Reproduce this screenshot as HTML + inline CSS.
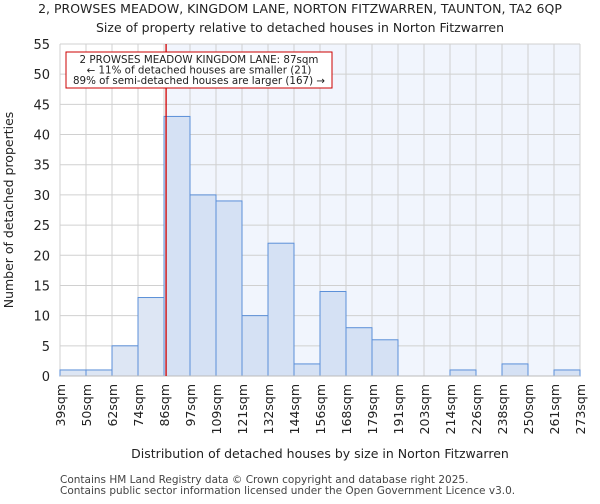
<!DOCTYPE html>
<html><head><meta charset="utf-8"><style>
body{margin:0;background:#fff;font-family:"DejaVu Sans","Liberation Sans",sans-serif}
</style></head><body>
<svg id="c" width="600" height="500" xmlns="http://www.w3.org/2000/svg" font-family="DejaVu Sans, Liberation Sans, sans-serif">
<text x="300" y="13" text-anchor="middle" font-size="12.5" fill="#222">2, PROWSES MEADOW, KINGDOM LANE, NORTON FITZWARREN, TAUNTON, TA2 6QP</text>
<text x="300" y="32" text-anchor="middle" font-size="12.5" fill="#222">Size of property relative to detached houses in Norton Fitzwarren</text>
<g id="plot"></g>
<text x="320" y="458" text-anchor="middle" font-size="12.5" fill="#222">Distribution of detached houses by size in Norton Fitzwarren</text>
<text transform="translate(13,210) rotate(-90)" text-anchor="middle" font-size="12.5" fill="#222">Number of detached properties</text>
<text x="60" y="483" font-size="10.5" fill="#444">Contains HM Land Registry data © Crown copyright and database right 2025.</text>
<text x="60" y="494" font-size="10.5" fill="#444">Contains public sector information licensed under the Open Government Licence v3.0.</text>
</svg>
<script>
const binLabels=["39sqm","50sqm","62sqm","74sqm","86sqm","97sqm","109sqm","121sqm","132sqm","144sqm","156sqm","168sqm","179sqm","191sqm","203sqm","214sqm","226sqm","238sqm","250sqm","261sqm","273sqm"];
const counts=[1,1,5,13,43,30,29,10,22,2,14,8,6,0,0,1,0,2,0,1];
const yTicks=[0,5,10,15,20,25,30,35,40,45,50,55];
const markerBin=4.08;
const L=60,R=580,T=44,B=376,yMax=55;
const n=counts.length,bw=(R-L)/n;
const xs=i=>L+i*bw, ys=v=>B-(v/yMax)*(B-T);
const g=document.getElementById('plot');const NS="http://www.w3.org/2000/svg";
function mk(t,a,txt){const e=document.createElementNS(NS,t);for(const k in a)e.setAttribute(k,a[k]);if(txt!=null)e.textContent=txt;g.appendChild(e);return e;}
const mx=xs(markerBin);
let bg=mk('rect',{x:mx,y:T,width:R-mx,height:B-T,fill:'#f1f5fd'});


for(let i=0;i<=n;i++){let l=mk('line',{x1:xs(i),x2:xs(i),y1:T,y2:B,stroke:'#d0d0d0','stroke-width':1});

}
yTicks.forEach(v=>{let l=mk('line',{x1:L,x2:R,y1:ys(v),y2:ys(v),stroke:'#d0d0d0','stroke-width':1});


let t=mk('text',{x:L-10,y:ys(v)+5,'text-anchor':'end','font-size':13,fill:'#222'},v);

});
counts.forEach((v,i)=>{if(v<=0)return;let r=mk('rect',{x:xs(i),y:ys(v),width:bw,height:B-ys(v),fill:(i+1)<=markerBin?'#dde6f4':'#d5e1f4',stroke:'#5b8fd8','stroke-width':1});

});
binLabels.forEach((s,i)=>{let t=mk('text',{transform:`translate(${xs(i)+5},384) rotate(-90)`,'text-anchor':'end','font-size':12.5,fill:'#222'},s);

});
let ax=mk('line',{x1:L,x2:R,y1:B,y2:B,stroke:'#bbb'});


let ml=mk('line',{x1:mx,x2:mx,y1:T,y2:B,stroke:'#d00000','stroke-width':1.3});


let box=mk('rect',{x:66,y:52,width:266,height:36,fill:'#fff',stroke:'#cc0000','stroke-width':1});


["2 PROWSES MEADOW KINGDOM LANE: 87sqm","← 11% of detached houses are smaller (21)","89% of semi-detached houses are larger (167) →"].forEach((s,i)=>{let t=mk('text',{x:199,y:63+i*10.5,'text-anchor':'middle','font-size':10.3,fill:'#222'},s);

});
</script>
</body></html>
